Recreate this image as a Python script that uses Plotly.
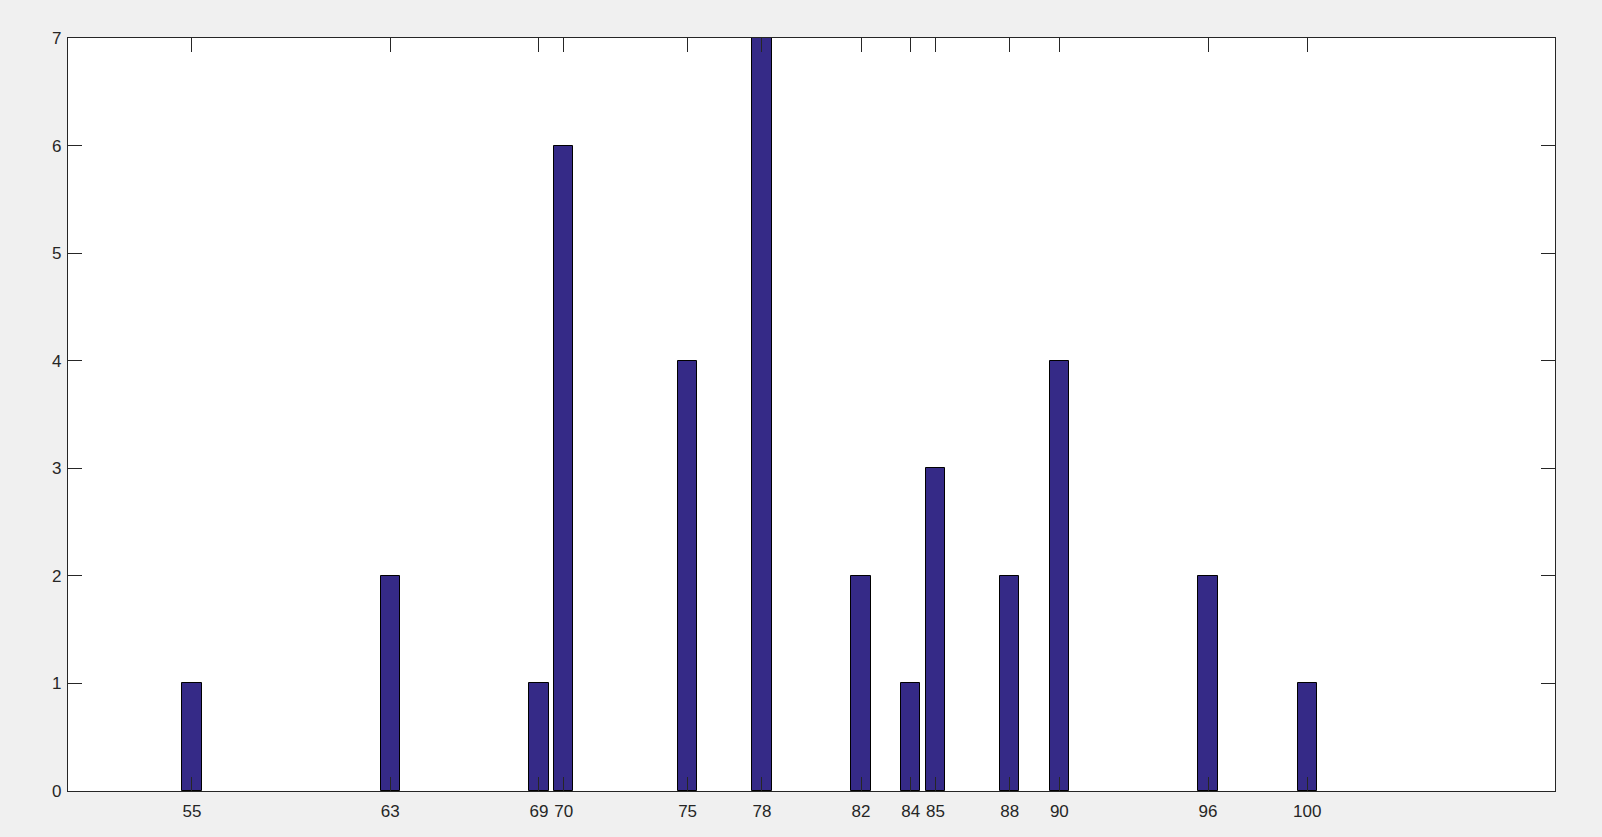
import plotly.graph_objects as go

# values
scores = [55, 63, 69, 70, 75, 78, 82, 84, 85, 88, 90, 96, 100]
counts = [1, 2, 1, 6, 4, 7, 2, 1, 3, 2, 4, 2, 1]
y_ticks = [0, 1, 2, 3, 4, 5, 6, 7]

axis_col = '#262626'

fig = go.Figure()
fig.add_trace(go.Bar(
    x=scores, y=counts,
    width=0.78,
    marker=dict(color='#352a87', line=dict(color='#000000', width=1)),
    showlegend=False,
))

common = dict(
    showline=True, linecolor=axis_col, linewidth=1.3,
    mirror='ticks', ticks='inside', ticklen=14, tickwidth=1,
    tickcolor=axis_col, showgrid=False, zeroline=False,
    tickfont=dict(family='Liberation Sans, Arial', size=17, color=axis_col),
)
fig.update_xaxes(range=[50, 110], tickmode='array', tickvals=scores,
                 ticklabelstandoff=4, **common)
fig.update_yaxes(range=[0, 7], tickmode='array', tickvals=y_ticks,
                 ticklabelstandoff=2, **common)

fig.update_layout(
    width=1602, height=837,
    margin=dict(l=68, r=47, t=38, b=46, pad=0),
    paper_bgcolor='#f0f0f0', plot_bgcolor='#ffffff',
    bargap=0,
)
# drop the page's default body margin so the figure fills the window
fig.write_html(
    "out.html",
    config={'displayModeBar': False},
    post_script="document.body.style.margin='0';"
                "document.body.style.overflow='hidden';"
                "document.body.style.background='#f0f0f0';",
)
